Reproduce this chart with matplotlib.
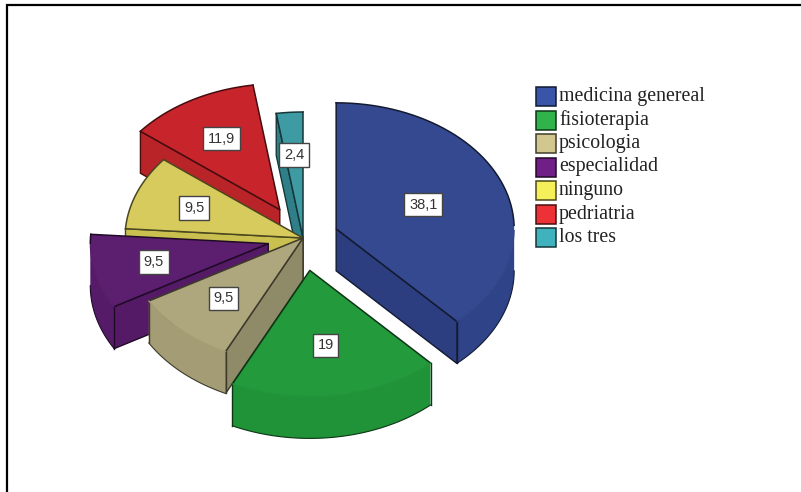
import numpy as np
import matplotlib
matplotlib.use("Agg")
import matplotlib.pyplot as plt
from matplotlib.colors import to_rgb
from matplotlib.patches import Polygon, Rectangle

# data
categories = ["medicina genereal", "fisioterapia", "psicologia", "especialidad",
              "ninguno", "pedriatria", "los tres"]
percent = [38.1, 19, 9.5, 9.5, 9.5, 11.9, 2.4]
percent_labels = ["38,1", "19", "9,5", "9,5", "9,5", "11,9", "2,4"]

# how far each slice is pulled out, and where its label sits along the bisector
explode = [0.2, 0.26, 0, 0.2, 0, 0.26, 0]
label_pos = [0.525, 0.6, 0.655, 0.66, 0.656, 0.65, 0.66]

top_colors = ["#34498f", "#239a3c", "#aea67c", "#5c1e6e", "#d6cb5c", "#c8242c", "#3f9ba3"]
arc_colors = ["#2f4388", "#209238", "#a39c74", "#561b68", "#c9c050", "#b82428", "#2f7f88"]
radial_colors = ["#2c3e80", "#1f8c36", "#8f8a68", "#541a66", "#c9c050", "#b82428", "#2f7f88"]
legend_colors = ["#3a55a8", "#2fb34a", "#d1c78f", "#6f1f85", "#f5ef5a", "#ed3237", "#3fb2bd"]

CX, CY = 303, 238
RX, RY = 178, 126
DEPTH = 42
# back to front
DRAW_ORDER = [6, 5, 4, 3, 2, 1, 0]


def darker(color, f=0.35):
    return tuple(c * f for c in to_rgb(color))


def ellipse_pts(x0, y0, a0, a1, n=60):
    # angles in degrees, clockwise from the top of the pie
    t = np.radians(np.linspace(a0, a1, n))
    return np.column_stack([x0 + RX * np.sin(t), y0 - RY * np.cos(t)])


def draw_slice(ax, i, a0, a1):
    mid = np.radians((a0 + a1) / 2)
    x0 = CX + explode[i] * RX * np.sin(mid)
    y0 = CY - explode[i] * RY * np.cos(mid)
    z = DRAW_ORDER.index(i) * 10 + 1
    edge = darker(top_colors[i])
    drop = np.array([0, DEPTH])
    apex = np.array([x0, y0])

    # flat sides, only the ones turned towards the viewer
    for a, visible in ((a0, np.sin(np.radians(a0)) < -1e-6), (a1, np.sin(np.radians(a1)) > 1e-6)):
        if visible:
            p = ellipse_pts(x0, y0, a, a, 1)[0]
            ax.add_patch(Polygon([apex, p, p + drop, apex + drop], closed=True, fc=radial_colors[i],
                                 ec=edge, lw=1, zorder=z))

    # outer wall, only the part facing the viewer
    s0, s1 = max(a0, 90), min(a1, 270)
    if s1 > s0:
        arc = ellipse_pts(x0, y0, s0, s1)
        ax.add_patch(Polygon(np.vstack([arc, (arc + drop)[::-1]]), closed=True, fc=arc_colors[i],
                             ec="none", zorder=z + 1))
        ax.plot(*(arc + drop).T, color=edge, lw=0.8, zorder=z + 1)
        # corner lines where the wall really ends, not at the silhouette tangents
        if s0 == a0:
            ax.plot([arc[0, 0]] * 2, [arc[0, 1], arc[0, 1] + DEPTH], color=edge, lw=1, zorder=z + 1)
        if s1 == a1:
            ax.plot([arc[-1, 0]] * 2, [arc[-1, 1], arc[-1, 1] + DEPTH], color=edge, lw=1, zorder=z + 1)

    # top face
    rim = ellipse_pts(x0, y0, a0, a1)
    ax.add_patch(Polygon(np.vstack([apex, rim]), closed=True, fc=top_colors[i], ec="none", zorder=z + 2))
    ax.plot([rim[0, 0], x0, rim[-1, 0]], [rim[0, 1], y0, rim[-1, 1]], color=edge, lw=1.1, zorder=z + 3)

    # rim line: dark at the back, faint where it meets the wall
    t = np.linspace(a0, a1, 60) % 360
    front = (t > 90) & (t < 270)
    back_rim = np.where(front[:, None], np.nan, rim)
    ax.plot(*back_rim.T, color=edge, lw=1.1, zorder=z + 3)
    front_rim = np.where(front[:, None], rim, np.nan)
    ax.plot(*front_rim.T, color=arc_colors[i], lw=0.8, zorder=z + 3)

    # value label
    ax.text(x0 + label_pos[i] * RX * np.sin(mid), y0 - label_pos[i] * RY * np.cos(mid), percent_labels[i],
            ha="center", va="center", fontsize=10.5, family="Liberation Sans", color="#333333", zorder=200,
            bbox=dict(boxstyle="square,pad=0.32", fc="white", ec="#444444", lw=1))


def main():
    fig = plt.figure(figsize=(8.01, 4.92), dpi=100)
    ax = fig.add_axes([0, 0, 1, 1])
    ax.set_xlim(0, 801)
    ax.set_ylim(492, 0)
    ax.axis("off")

    # frame of the screenshot: only top and left
    ax.plot([7, 7, 801], [492, 5, 5], color="black", lw=1.6, solid_joinstyle="miter", zorder=300)

    edges = np.concatenate([[0], np.cumsum(percent)]) / np.sum(percent) * 360
    for i in range(len(percent)):
        draw_slice(ax, i, edges[i], edges[i + 1])

    for i, name in enumerate(categories):
        y = 87 + 23.5 * i
        ax.add_patch(Rectangle((536, y), 20, 19, fc=legend_colors[i], ec=darker(legend_colors[i], 0.3), lw=1.1))
        ax.text(559, y + 9.5, name, ha="left", va="center", fontsize=14.3, family="Liberation Serif",
                color="#222222")

    fig.savefig("out.png", dpi=100)
    plt.close(fig)


if __name__ == "__main__":
    main()
